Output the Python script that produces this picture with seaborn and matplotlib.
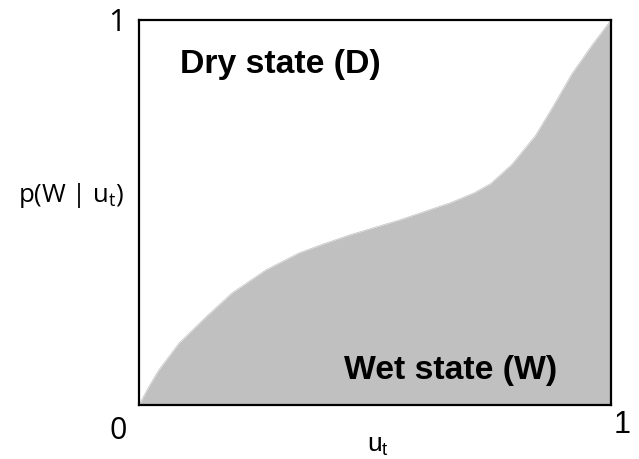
import numpy as np
import pandas as pd
import matplotlib
matplotlib.use("Agg")
import matplotlib.pyplot as plt
import seaborn as sns

# =========================================================
# DATA
# =========================================================
u_t = [0.0, 0.021, 0.042, 0.085, 0.142, 0.197, 0.269, 0.339, 0.39, 0.447,
       0.553, 0.659, 0.71, 0.745, 0.79, 0.84, 0.877, 0.917, 0.96, 1.0]
p_w = [0.0, 0.048, 0.091, 0.161, 0.229, 0.291, 0.351, 0.395, 0.418, 0.442,
       0.481, 0.525, 0.551, 0.575, 0.625, 0.70, 0.775, 0.86, 0.935, 1.0]

state_labels = ["Dry state (D)", "Wet state (W)"]
corner_labels = ["1", "0", "1"]

df = pd.DataFrame({"u": u_t, "p": p_w})

# =========================================================
# FIGURE
# =========================================================
sns.set_style("white")
plt.rcParams["font.family"] = ["Liberation Sans", "DejaVu Sans"]
plt.rcParams["text.color"] = "black"

fig = plt.figure(figsize=(6.39, 4.59), dpi=100)
ax = fig.add_axes([139 / 639, 1 - 405 / 459, 472 / 639, 385 / 459])

sns.lineplot(data=df, x="u", y="p", ax=ax, color="#C0C0C0", linewidth=0.5)
ax.fill_between(df["u"], 0, df["p"], color="#C0C0C0", linewidth=0)

ax.set_xlim(0, 1)
ax.set_ylim(0, 1)
ax.set_xticks([])
ax.set_yticks([])
ax.set_xlabel("")
ax.set_ylabel("")
for s in ax.spines.values():
    s.set_color("black")
    s.set_linewidth(1.6)


def px(x, y):
    return x / 639, 1 - y / 459


# state labels
fig.text(*px(280, 64), state_labels[0], fontsize=24.3, fontweight="bold",
         ha="center", va="center")
fig.text(*px(451, 371), state_labels[1], fontsize=24.3, fontweight="bold",
         ha="center", va="center")

# corner labels
fig.text(*px(117, 23), corner_labels[0], fontsize=22, family="Open Sans",
         ha="center", va="center")
fig.text(*px(118, 431), corner_labels[1], fontsize=22, family="Open Sans",
         ha="center", va="center")
fig.text(*px(622, 425), corner_labels[2], fontsize=22,
         ha="center", va="center")

# axis titles
fig.text(*px(71, 195), r"p(W | u$_\mathregular{t}$)", fontsize=18.5,
         family="Open Sans", ha="center", va="center")
fig.text(*px(378, 446), r"u$_\mathregular{t}$", fontsize=19,
         ha="center", va="center")

fig.savefig("out.png", dpi=100)
plt.close()
